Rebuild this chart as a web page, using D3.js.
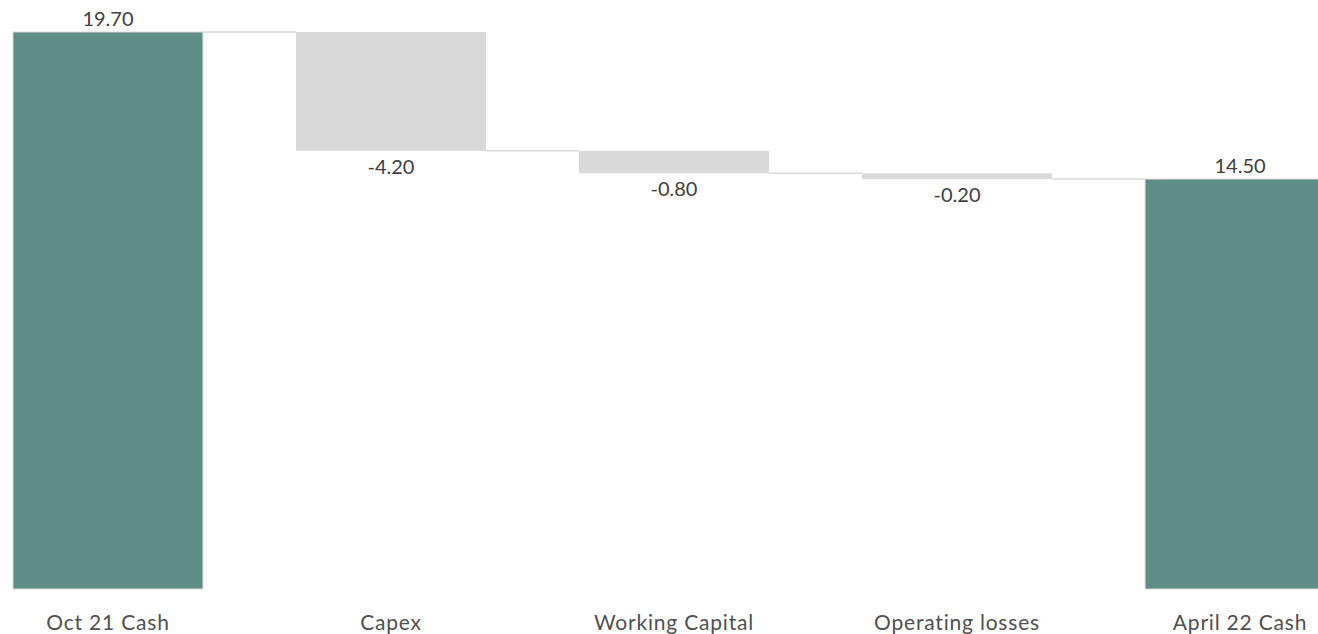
<!DOCTYPE html>
<html><head><meta charset="utf-8">
<script src="https://cdn.jsdelivr.net/npm/d3@7"></script>
<style>body{margin:0;background:#fff;}svg{display:block;}</style>
</head><body>
<svg id="chart" width="1318" height="634"></svg>
<script>
const categories = ["Oct 21 Cash", "Capex", "Working Capital", "Operating losses", "April 22 Cash"];
const values = [19.70, -4.20, -0.80, -0.20, 14.50];
const isTotal = [true, false, false, false, true];
const valueLabels = ["19.70", "-4.20", "-0.80", "-0.20", "14.50"];

const svg = d3.select("#chart");
const x = d3.scaleBand().domain(categories).range([13, 1335]).paddingInner(0.329).paddingOuter(0);
const y = d3.scaleLinear().domain([0, 19.7]).range([589, 32]);

let run = 0;
const data = categories.map((c, i) => {
  let start, end;
  if (isTotal[i]) { start = 0; end = values[i]; run = values[i]; }
  else { start = run; end = run + values[i]; run = end; }
  return {c, v: values[i], start, end, total: isTotal[i], label: valueLabels[i]};
});

// connectors
for (let i = 0; i < data.length - 1; i++) {
  const lvl = data[i].end;
  svg.append("line")
    .attr("x1", x(data[i].c) + x.bandwidth())
    .attr("x2", x(data[i+1].c))
    .attr("y1", y(lvl)).attr("y2", y(lvl))
    .attr("stroke", "#d9d9d9").attr("stroke-width", 1.5);
}

svg.selectAll("rect.bar").data(data).join("rect")
  .attr("class", "bar")
  .attr("x", d => x(d.c))
  .attr("width", x.bandwidth())
  .attr("y", d => y(Math.max(d.start, d.end)))
  .attr("height", d => Math.abs(y(d.start) - y(d.end)))
  .attr("fill", d => d.total ? "#5f8e87" : "#d9d9d9")
  .attr("stroke", d => d.total ? "#d9d9d9" : "none")
  .attr("stroke-width", 1);

const font = "'Gill Sans', Lato, 'Open Sans', sans-serif";
svg.selectAll("text.val").data(data).join("text")
  .attr("class", "val")
  .attr("x", d => x(d.c) + x.bandwidth() / 2)
  .attr("y", d => d.v >= 0 ? y(d.end) - 14 : y(d.end) + 15)
  .attr("text-anchor", "middle")
  .attr("dominant-baseline", "central")
  .attr("font-family", font)
  .attr("font-size", 20)
  .attr("fill", "#404040")
  .text(d => d.label);

svg.selectAll("text.cat").data(data).join("text")
  .attr("class", "cat")
  .attr("x", d => x(d.c) + x.bandwidth() / 2)
  .attr("y", 621)
  .attr("text-anchor", "middle")
  .attr("dominant-baseline", "central")
  .attr("font-family", font)
  .attr("font-size", 21)
  .attr("letter-spacing", 0.8)
  .attr("fill", "#505050")
  .text(d => d.c);
</script>
</body></html>
